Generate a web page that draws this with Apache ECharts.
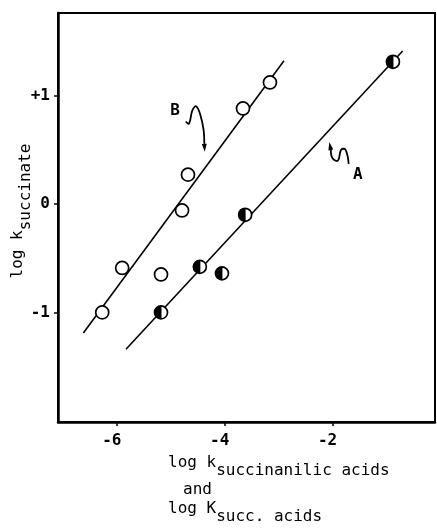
<!DOCTYPE html>
<html>
<head>
<meta charset="utf-8">
<script src="https://cdn.jsdelivr.net/npm/echarts@6/dist/echarts.min.js"></script>
<style>
  html, body { margin: 0; padding: 0; background: #fff; }
  #chart { width: 437px; height: 528px; }
</style>
</head>
<body>
<div id="chart"></div>
<script>
// tick positions
const xTicks = [-6, -4, -2];
const yTicks = [-1, 0, 1];

// open circles (B) and half-filled circles (A)
const pointsB = [[-6.27, -1.0], [-5.9, -0.59], [-5.18, -0.65], [-4.79, -0.06], [-4.68, 0.27], [-3.66, 0.88], [-3.16, 1.12]];
const pointsA = [[-5.18, -1.0], [-4.46, -0.58], [-4.05, -0.64], [-3.62, -0.1], [-0.88, 1.31]];

// fitted lines, end points
const lineB = [[-6.62, -1.19], [-2.9, 1.32]];
const lineA = [[-5.83, -1.34], [-0.7, 1.41]];

// annotation labels and their curly arrows
const labelNames = ['B', 'A'];
const labelPos = [[-4.92, 0.86], [-1.53, 0.27]];
const squiggles = [
  [[-4.72, 0.76], [-4.66, 0.74], [-4.6, 0.86], [-4.53, 0.9], [-4.45, 0.82], [-4.39, 0.68], [-4.37, 0.48]],
  [[-1.7, 0.37], [-1.76, 0.5], [-1.84, 0.5], [-1.9, 0.4], [-2.0, 0.42], [-2.06, 0.57]]
];

const font = 'DejaVu Sans Mono';
const chart = echarts.init(document.getElementById('chart'));

const renderNote = (params, api) => {
  const i = params.dataIndex;
  const pts = squiggles[i].map(p => api.coord(p));
  const tip = pts[pts.length - 1];
  const prev = pts[pts.length - 2];
  const ang = Math.atan2(tip[1] - prev[1], tip[0] - prev[0]);
  const len = 8, half = 2.5;
  const bx = tip[0] - len * Math.cos(ang), by = tip[1] - len * Math.sin(ang);
  const head = [
    tip,
    [bx + half * Math.sin(ang), by - half * Math.cos(ang)],
    [bx - half * Math.sin(ang), by + half * Math.cos(ang)]
  ];
  const lp = api.coord([api.value(0), api.value(1)]);
  return {
    type: 'group',
    children: [
      { type: 'polyline', shape: { points: pts.slice(0, -1).concat([[bx, by]]), smooth: 0.4 },
        style: { stroke: '#000', lineWidth: 1.8, fill: null } },
      { type: 'polygon', shape: { points: head }, style: { fill: '#000' } },
      { type: 'text', x: lp[0], y: lp[1],
        style: { text: labelNames[i], font: 'bold 16px "' + font + '"', fill: '#000', align: 'center', verticalAlign: 'middle' } }
    ]
  };
};

const subRich = {
  m: { fontSize: 16, fontFamily: font, color: '#000', padding: [0, 0, 8, 0] },
  s: { fontSize: 16, fontFamily: font, color: '#000', padding: [8, 0, 0, 0] }
};

chart.setOption({
  animation: false,
  backgroundColor: '#fff',
  grid: { left: 58, right: 2, top: 13, bottom: 106, show: true, borderColor: '#000', borderWidth: 2 },
  xAxis: {
    type: 'value',
    min: -7.09,
    max: -0.1,
    axisLine: { onZero: false, lineStyle: { color: '#000', width: 2.5 } },
    axisTick: { show: true, customValues: xTicks, length: 4, lineStyle: { color: '#000', width: 1.5 } },
    axisLabel: {
      customValues: xTicks, margin: 11, color: '#000', fontSize: 16, fontWeight: 'bold',
      fontFamily: font, padding: [0, 10, 0, 0]
    },
    splitLine: { show: false }
  },
  yAxis: {
    type: 'value',
    min: -2.01,
    max: 1.76,
    axisLine: { show: true, onZero: false, lineStyle: { color: '#000', width: 2.5 } },
    axisTick: { show: true, customValues: yTicks, length: 4, lineStyle: { color: '#000', width: 1.5 } },
    axisLabel: {
      customValues: yTicks, margin: 8, color: '#000', fontSize: 16, fontWeight: 'bold', fontFamily: font,
      formatter: v => (v > 0 ? '+' + v : String(v))
    },
    splitLine: { show: false }
  },
  graphic: [
    { type: 'text', x: 22, y: 211, rotation: Math.PI / 2,
      style: { text: '{m|log k}{s|succinate}', rich: subRich, align: 'center', verticalAlign: 'middle' } },
    { type: 'text', x: 168, y: 455,
      style: { text: '{m|log k}{s|succinanilic acids}', rich: subRich, align: 'left', verticalAlign: 'top' } },
    { type: 'text', x: 183, y: 490,
      style: { text: 'and', font: '16px "' + font + '"', fill: '#000', align: 'left', verticalAlign: 'middle' } },
    { type: 'text', x: 168, y: 501,
      style: { text: '{m|log K}{s|succ. acids}', rich: subRich, align: 'left', verticalAlign: 'top' } }
  ],
  series: [
    { type: 'line', data: lineB, symbol: 'none', lineStyle: { color: '#000', width: 1.6 }, z: 2 },
    { type: 'line', data: lineA, symbol: 'none', lineStyle: { color: '#000', width: 1.6 }, z: 2 },
    { type: 'scatter', data: pointsB, symbol: 'circle', symbolSize: 13,
      itemStyle: { color: '#fff', borderColor: '#000', borderWidth: 1.7, opacity: 1 }, z: 3 },
    { type: 'scatter', data: pointsA, symbol: 'circle', symbolSize: 13,
      itemStyle: { color: '#fff', borderColor: '#000', borderWidth: 1.7, opacity: 1 }, z: 3 },
    { type: 'scatter', data: pointsA, symbol: 'path://M10,0 A10,10 0 0,0 10,20 Z',
      symbolSize: [7, 13], symbolOffset: [-3, 0], symbolKeepAspect: false,
      itemStyle: { color: '#000', opacity: 1 }, z: 4 },
    { type: 'custom', data: labelPos, renderItem: renderNote, silent: true, z: 5 }
  ]
});
</script>
</body>
</html>
